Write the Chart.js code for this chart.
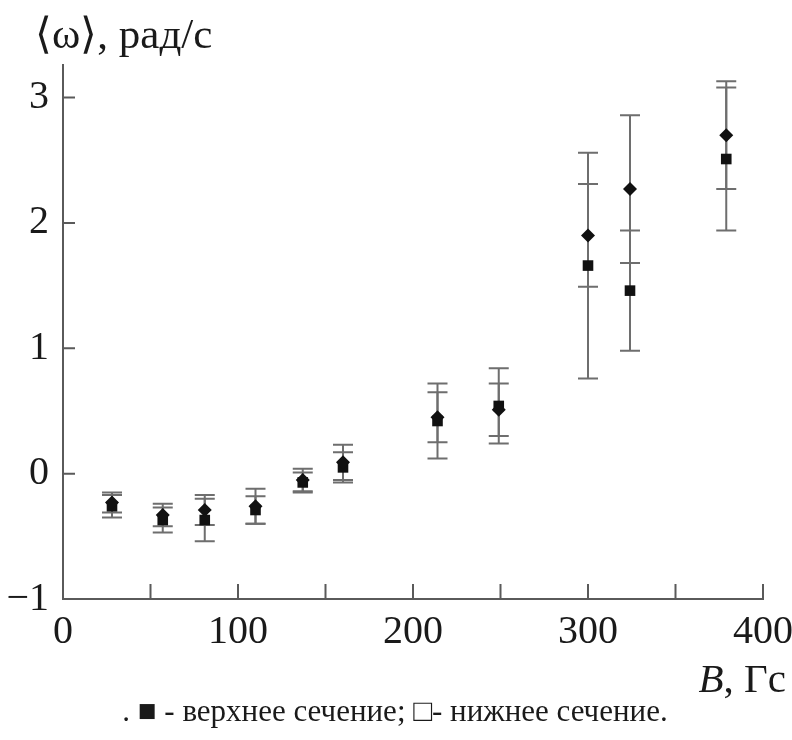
<!DOCTYPE html>
<html>
<head>
<meta charset="utf-8">
<script src="https://cdn.jsdelivr.net/npm/chart.js@4"></script>
<style>html,body{margin:0;padding:0;background:#fff;}canvas{display:block;}</style>
</head>
<body>
<canvas id="chart" width="792" height="740"></canvas>
<script>
// ---- data ----
const fieldB = [28, 57, 81, 110, 137, 160, 214, 249, 300, 324, 379];           // B, Гс
const diamondOmega = [-0.23, -0.33, -0.29, -0.26, -0.05, 0.09, 0.45, 0.51, 1.90, 2.27, 2.70];
const diamondErr   = [0.08, 0.09, 0.12, 0.14, 0.09, 0.14, 0.20, 0.21, 0.41, 0.59, 0.43];
const squareOmega  = [-0.26, -0.37, -0.37, -0.29, -0.07, 0.05, 0.42, 0.54, 1.66, 1.46, 2.51];
const squareErr    = [0.09, 0.10, 0.17, 0.11, 0.08, 0.12, 0.30, 0.30, 0.90, 0.48, 0.57];
const xTickValues = [0, 50, 100, 150, 200, 250, 300, 350, 400];
const xTickLabels = ['0', '', '100', '', '200', '', '300', '', '400'];
const yTickValues = [-1, 0, 1, 2, 3];
const yTickLabels = ['\u22121', '0', '1', '2', '3'];
const yTitleText = '\u27E8\u03C9\u27E9, рад/с';
const xTitleVar = 'B';
const xTitleUnit = ', Гс';
const captionText = '. \u25A0 - верхнее сечение; \u25A1- нижнее сечение.';
const seriesNames = ['верхнее сечение', 'нижнее сечение'];

const SERIF = '"Liberation Serif", "Times New Roman", serif';
const AXIS_COLOR = '#5a5a5a';
const BAR_COLOR = '#6e6e6e';
const TEXT_COLOR = '#1a1a1a';

function toPoints(xs, ys, es) {
  return xs.map((x, i) => ({ x: x, y: ys[i], err: es[i] }));
}

const errorBars = {
  id: 'errorBars',
  beforeDatasetsDraw(chart) {
    const { ctx, scales: { x, y } } = chart;
    ctx.save();
    ctx.strokeStyle = BAR_COLOR;
    ctx.lineWidth = 2;
    const cap = 10;
    chart.data.datasets.forEach((ds) => {
      ds.data.forEach((p) => {
        const px = x.getPixelForValue(p.x);
        const yTop = y.getPixelForValue(p.y + p.err);
        const yBot = y.getPixelForValue(p.y - p.err);
        ctx.beginPath();
        ctx.moveTo(px, yTop); ctx.lineTo(px, yBot);
        ctx.moveTo(px - cap, yTop); ctx.lineTo(px + cap, yTop);
        ctx.moveTo(px - cap, yBot); ctx.lineTo(px + cap, yBot);
        ctx.stroke();
      });
    });
    ctx.restore();
  }
};

const inwardTicks = {
  id: 'inwardTicks',
  beforeDatasetsDraw(chart) {
    const { ctx, scales: { x, y } } = chart;
    ctx.save();
    ctx.strokeStyle = AXIS_COLOR;
    ctx.lineWidth = 2;
    ctx.beginPath();
    x.ticks.forEach((t) => {
      if (t.value === x.min) return;
      const px = x.getPixelForValue(t.value);
      ctx.moveTo(px, x.top);
      ctx.lineTo(px, x.top - 15);
    });
    y.ticks.forEach((t) => {
      if (t.value === y.min) return;
      const py = y.getPixelForValue(t.value);
      ctx.moveTo(y.right, py);
      ctx.lineTo(y.right + 12, py);
    });
    ctx.stroke();
    ctx.restore();
  }
};

const axisTitles = {
  id: 'axisTitles',
  afterDraw(chart) {
    const { ctx, chartArea, scales: { x } } = chart;
    ctx.save();
    ctx.fillStyle = TEXT_COLOR;
    ctx.textBaseline = 'alphabetic';
    // y-axis title, horizontal, above the axis
    ctx.font = '43px ' + SERIF;
    ctx.textAlign = 'left';
    ctx.fillText(yTitleText, chartArea.left - 28, chartArea.top - 17);
    // x-axis title, right-aligned below the tick labels
    const baseY = x.top + 93;
    const rightX = chartArea.right + 23;
    ctx.font = '41px ' + SERIF;
    const unitW = ctx.measureText(xTitleUnit).width;
    ctx.textAlign = 'right';
    ctx.fillText(xTitleUnit, rightX, baseY);
    ctx.font = 'italic 41px ' + SERIF;
    ctx.fillText(xTitleVar, rightX - unitW, baseY);
    // caption with the series key
    ctx.font = '31px ' + SERIF;
    ctx.textAlign = 'center';
    ctx.textBaseline = 'middle';
    ctx.fillText(captionText, (chartArea.left + chartArea.right) / 2 - 18, x.top + 114);
    ctx.restore();
  }
};

new Chart(document.getElementById('chart'), {
  type: 'scatter',
  data: {
    datasets: [
      {
        label: seriesNames[0],
        data: toPoints(fieldB, diamondOmega, diamondErr),
        pointStyle: 'rectRot',
        pointRadius: 7,
        backgroundColor: '#111',
        borderColor: '#111',
        borderWidth: 0
      },
      {
        label: seriesNames[1],
        data: toPoints(fieldB, squareOmega, squareErr),
        pointStyle: 'rect',
        pointRadius: 7.5,
        backgroundColor: '#111',
        borderColor: '#111',
        borderWidth: 0
      }
    ]
  },
  options: {
    responsive: false,
    animation: false,
    events: [],
    layout: { padding: { left: 0, right: 29, top: 65, bottom: 0 } },
    plugins: {
      legend: { display: false },
      tooltip: { enabled: false },
      title: { display: false }
    },
    scales: {
      x: {
        type: 'linear',
        min: 0,
        max: 400,
        grid: { display: false, drawTicks: false },
        border: { display: true, color: AXIS_COLOR, width: 2 },
        afterBuildTicks(scale) { scale.ticks = xTickValues.map(v => ({ value: v })); },
        afterFit(scale) { scale.height = 141; scale.paddingLeft = 0; scale.paddingRight = 0; },
        ticks: {
          autoSkip: false,
          maxRotation: 0,
          padding: 9,
          color: TEXT_COLOR,
          font: { family: SERIF, size: 40 },
          callback(value) { const i = xTickValues.indexOf(value); return i >= 0 ? xTickLabels[i] : ''; }
        },
        title: { display: false }
      },
      y: {
        type: 'linear',
        min: -1,
        max: 3.26,
        grid: { display: false, drawTicks: false },
        border: { display: true, color: AXIS_COLOR, width: 2 },
        afterBuildTicks(scale) { scale.ticks = yTickValues.map(v => ({ value: v })); },
        afterFit(scale) { scale.width = 63; scale.paddingTop = 0; scale.paddingBottom = 0; },
        ticks: {
          autoSkip: false,
          padding: 14,
          color: TEXT_COLOR,
          font: { family: SERIF, size: 40 },
          callback(value) { const i = yTickValues.indexOf(value); return i >= 0 ? yTickLabels[i] : ''; }
        },
        title: { display: false }
      }
    }
  },
  plugins: [errorBars, inwardTicks, axisTitles]
});
</script>
</body>
</html>
